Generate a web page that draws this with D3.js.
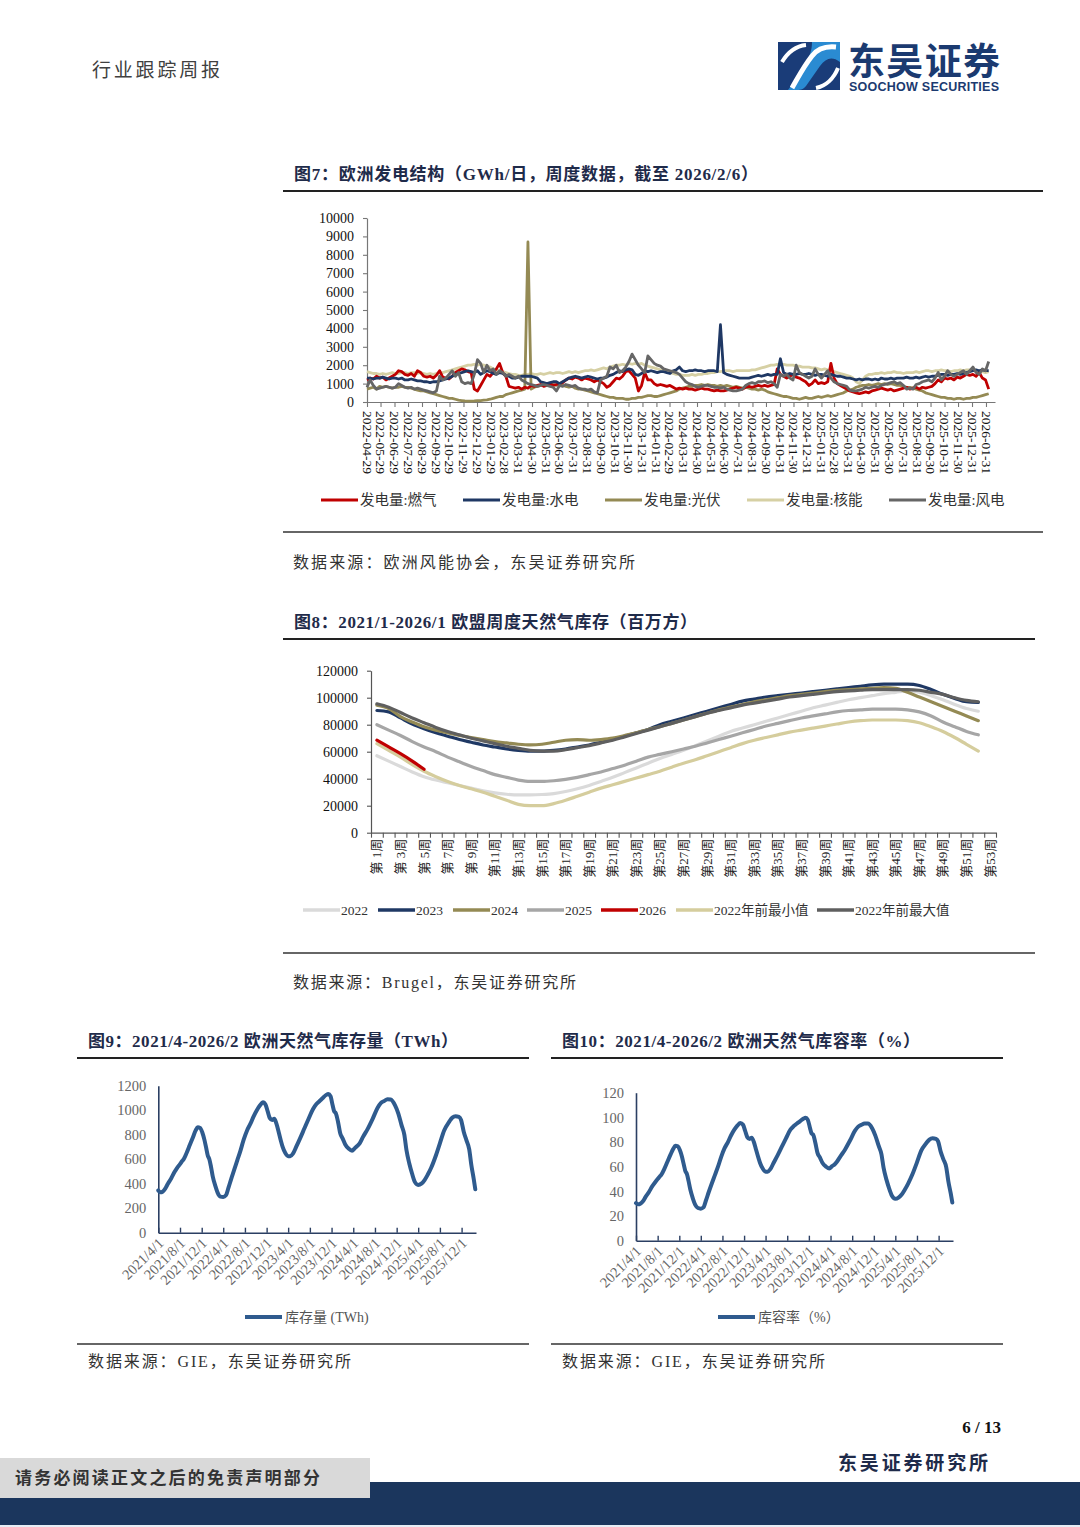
<!DOCTYPE html>
<html><head><meta charset="utf-8">
<script src="https://cdn.jsdelivr.net/npm/d3@7"></script>
<style>
body{margin:0;background:#fff;}
svg{display:block;}
text{font-family:"Liberation Serif","Noto Sans CJK SC",serif;}
</style></head><body>
<svg id="page" width="1080" height="1527"></svg>
<script>
// ================= DATA =================
// Fig 7: weekly generation (GWh/day), first week 2022-04-29
const genStart = "2022-04-29";
const genTickLabels = ["2022-04-29","2022-05-29","2022-06-29","2022-07-29","2022-08-29","2022-09-29","2022-10-29","2022-11-29","2022-12-29",
"2023-01-29","2023-02-28","2023-03-31","2023-04-30","2023-05-31","2023-06-30","2023-07-31","2023-08-31","2023-09-30","2023-10-31","2023-11-30","2023-12-31",
"2024-01-31","2024-02-29","2024-03-31","2024-04-30","2024-05-31","2024-06-30","2024-07-31","2024-08-31","2024-09-30","2024-10-31","2024-11-30","2024-12-31",
"2025-01-31","2025-02-28","2025-03-31","2025-04-30","2025-05-31","2025-06-30","2025-07-31","2025-08-31","2025-09-30","2025-10-31","2025-11-30","2025-12-31",
"2026-01-31"];
const genYTicks = [0,1000,2000,3000,4000,5000,6000,7000,8000,9000,10000];
const genNames = ["发电量:燃气","发电量:水电","发电量:光伏","发电量:核能","发电量:风电"];
const gasFired = [1200,1300,1250,1400,1300,1350,1200,1300,1400,1500,
1700,1650,1500,1450,1550,1400,1700,1600,1400,1350,
1400,1300,1450,1700,1350,1300,1250,1400,1600,1700,
1800,1750,1650,1600,700,600,900,1200,1500,1400,
1600,1800,2100,1600,1400,850,800,750,800,700,
800,750,900,850,900,950,850,900,1000,900,
950,1000,1050,1200,1300,1250,1350,1300,1200,1300,
1250,1200,1100,1200,1100,1000,800,900,1100,1300,
1250,1400,1650,1700,1500,1300,600,900,1600,1200,
1200,1000,900,950,900,850,900,800,700,750,
700,750,700,700,650,700,750,700,700,650,
600,650,600,600,650,700,750,800,750,700,
800,850,800,850,900,850,900,850,900,950,
1800,1500,1400,1300,1400,1500,1350,1300,1200,1100,
900,1000,1200,1000,1050,1000,1100,2100,1300,1000,
900,800,700,600,550,500,450,500,550,500,
600,650,700,750,700,650,700,600,650,700,
750,800,700,750,800,700,800,750,800,850,
1000,1200,1100,1300,1250,1300,1200,1350,1300,1400,
1500,1450,1500,1400,1600,1300,1200,700];
const hydro = [1300,1300,1250,1300,1300,1350,1300,1250,1300,1300,
1250,1300,1200,1200,1250,1200,1150,1150,1100,1100,
1050,1100,1100,1150,1200,1250,1300,1400,1500,1550,
1600,1650,1700,1650,1600,1700,1500,1600,1700,1650,
1550,1500,1600,1550,1450,1400,1300,1300,1350,1400,
1400,1400,1400,1350,1300,1100,1050,1000,1050,1100,
1100,1000,1100,1200,1300,1350,1400,1350,1300,1350,
1400,1350,1300,1250,1300,1300,1350,1450,1500,1600,
1700,1650,1750,1800,1750,1500,1450,1550,1700,1650,
1700,1650,1600,1650,1650,1600,1550,1700,1750,1900,
1700,1650,1700,1700,1750,1700,1700,1650,1700,1700,
1700,1650,4200,1600,1500,1450,1400,1350,1300,1300,
1300,1300,1350,1400,1450,1400,1450,1500,1450,1500,
1500,2350,1600,1500,1550,1500,1500,1550,1500,1500,
1550,1500,1450,1500,1500,1450,1400,1500,1450,1400,
1400,1350,1300,1300,1250,1200,1250,1200,1250,1250,
1200,1250,1200,1300,1250,1250,1300,1250,1300,1300,
1300,1350,1300,1300,1350,1300,1350,1400,1350,1400,
1400,1450,1500,1500,1450,1500,1500,1550,1500,1550,
1600,1650,1700,1750,1700,1750,1700,1700];
const solar = [700,750,800,700,850,800,850,800,750,800,
800,850,800,800,750,700,650,600,600,550,
500,450,400,350,300,250,200,200,150,100,
80,60,50,50,60,80,80,100,120,150,
200,250,300,300,400,450,500,550,600,650,
700,8700,700,800,850,900,950,900,1000,950,
900,950,900,850,800,850,750,700,700,650,
600,550,500,450,400,350,300,250,250,200,
200,200,150,150,200,200,250,250,300,350,
350,300,300,350,400,450,500,550,600,700,
750,800,850,850,900,900,950,900,950,900,
900,850,900,850,900,850,800,850,800,750,
800,750,700,700,650,700,650,550,500,450,
400,350,300,300,250,200,200,150,200,250,
200,200,250,300,250,300,350,300,350,400,
450,500,600,650,700,800,850,900,900,950,
900,950,1000,950,1000,950,1000,950,900,900,
850,800,800,750,700,650,600,500,450,400,
350,300,250,250,200,200,150,200,200,150,
200,200,250,250,300,350,400,450];
const nuclear = [1650,1600,1550,1550,1500,1550,1500,1550,1600,1550,
1550,1600,1600,1550,1600,1600,1550,1600,1550,1500,
1550,1500,1550,1600,1600,1650,1700,1750,1800,1850,
1900,1950,2000,2000,2050,2000,2050,2000,1950,1900,
1800,1750,1700,1650,1600,1550,1500,1500,1450,1450,
1500,1500,1550,1500,1500,1550,1500,1550,1600,1550,
1600,1600,1550,1600,1650,1600,1650,1600,1650,1700,
1700,1750,1700,1750,1800,1850,1800,1900,1950,2000,
2000,2050,2000,2100,2050,2100,2050,2100,2000,1950,
1900,1850,1800,1750,1700,1650,1600,1550,1500,1500,
1450,1450,1450,1500,1450,1500,1500,1550,1550,1600,
1600,1650,1650,1700,1700,1700,1650,1700,1700,1700,
1700,1700,1750,1750,1800,1850,1900,1950,2000,2000,
2050,2000,2050,2000,2000,2000,1950,1950,1900,1900,
1900,1850,1850,1800,1750,1800,1750,1700,1650,1600,
1550,1500,1450,1400,1300,1100,1000,1200,1400,1500,
1500,1550,1550,1600,1550,1600,1600,1650,1600,1600,
1550,1600,1600,1600,1650,1600,1650,1700,1700,1650,
1700,1700,1750,1700,1700,1650,1700,1700,1750,1700,
1750,1750,1700,1700,1650,1650,1600,1650];
const wind = [800,1200,900,700,750,800,850,800,750,800,
1000,900,800,750,800,700,750,700,650,600,
550,500,600,1400,1200,1300,1500,1700,1400,1600,
1100,1000,1050,1000,1500,2300,2100,1600,2000,1700,
1800,1500,1700,1600,1400,1500,1400,1300,1400,1200,
1100,1000,950,900,850,900,950,900,850,800,
600,900,850,950,900,850,900,750,700,700,
650,700,550,500,1200,1300,1400,1900,1800,2000,
1600,1700,1900,2200,2600,2300,2000,1800,1600,2500,
2300,2100,2000,1950,1800,1750,1700,1650,1600,1500,
1300,1100,1000,950,850,800,850,900,900,850,
800,800,750,800,700,650,600,600,650,700,
900,1000,1050,1000,1100,1100,1150,1050,1100,1000,
800,1500,1400,1500,1300,1200,2000,1600,1500,1400,
1300,1400,1800,1500,1300,1500,1700,1300,1100,1000,
950,900,850,650,600,600,650,700,800,750,
800,850,800,900,950,1000,1050,1100,1000,1050,
900,700,750,700,950,1000,1100,1150,1200,1100,
1300,1600,1200,1400,1700,1500,1400,1500,1600,1700,
1500,1700,1900,1600,1500,1800,1700,2200];

// Fig 8: EU weekly gas storage (million m3), weeks 1..53
const stockWeeks = d3.range(1, 54);
const stockWeekLabels = ["第 1周","第 3周","第 5周","第 7周","第 9周","第11周","第13周","第15周","第17周","第19周","第21周","第23周","第25周","第27周","第29周","第31周","第33周","第35周","第37周","第39周","第41周","第43周","第45周","第47周","第49周","第51周","第53周"];
const stockYTicks = [0,20000,40000,60000,80000,100000,120000];
const stockNames = ["2022","2023","2024","2025","2026","2022年前最小值","2022年前最大值"];
const stock2022 = [57000,53000,49000,45000,41500,39000,37000,35000,33000,31000,
29500,28500,28000,28000,28300,29000,30500,32500,35000,38000,
41000,44500,48000,51500,55000,58000,61000,64500,68000,71500,
75000,77500,80000,82500,85000,87500,90000,92500,94500,96500,
98500,100000,101500,103000,104000,105000,104000,101500,98500,95000,
92000,90000];
const stock2023 = [90500,89500,85000,80500,77000,74000,71500,69000,67000,65000,
63500,62000,61000,60500,60500,61000,62000,63500,65000,67000,
69000,71500,74000,76500,80000,82500,85000,87500,90000,92500,
95000,97500,99000,100500,101500,102500,103500,104500,105500,106500,
107500,108500,109500,110000,110000,110000,109000,106000,102500,99500,
97000,96500];
const stock2024 = [94500,92000,86000,82000,78500,76000,74000,72000,70500,69000,
67500,66500,65500,65000,65500,67000,68500,69000,68500,69000,
70000,72000,74000,76500,78500,81000,83500,86000,88500,91000,
93000,95000,97000,98500,100000,101500,102500,103500,104500,105500,
106000,106500,107000,107500,107000,104000,100500,97000,93500,90000,
86500,83000];
const stock2025 = [80000,76000,72000,67500,63500,60000,56000,52500,49000,46000,
43000,41000,39000,38000,38000,38500,39500,41000,43000,45000,
47500,50000,53000,56000,58000,60000,62000,64000,66500,69000,
71500,74000,76500,79000,81000,83000,85000,86500,88000,89500,
90500,91000,91500,91500,91500,91000,89500,86500,82000,78500,
75000,72500];
const stock2026 = [68500,63500,58500,53000,47000];
const stockMin = [66000,61000,56000,50500,45500,41500,38000,35000,32500,30000,
27000,24000,21000,20000,20000,21500,24000,27000,30000,33000,
35500,38000,40500,43000,45500,48500,51500,54000,57000,60000,
63000,66000,68500,70500,72500,74500,76000,77500,79000,80500,
82000,83000,83500,83500,83500,83000,81500,78500,75000,70500,
65500,60500];
const stockMax = [95500,93000,89000,85000,81500,78000,75000,72500,70000,68000,
66000,64000,62500,61000,60500,60500,61500,63000,64500,66500,
68500,71000,73500,76000,78500,81000,83500,86000,88500,90500,
92500,94500,96000,97500,99000,100500,101500,102500,103500,104500,
105000,105500,106000,106000,106000,106000,105500,104000,102500,100000,
98000,97000];

// Fig 9 / 10: EU gas storage (GIE)
const storageDates = ["2021-04-01","2021-04-13","2021-04-25","2021-05-10","2021-05-25","2021-06-13","2021-07-01","2021-07-16","2021-08-01","2021-08-13",
"2021-08-22","2021-09-07","2021-09-25","2021-10-13","2021-10-28","2021-11-09","2021-11-22","2021-12-04","2021-12-16","2021-12-25",
"2022-01-04","2022-01-13","2022-01-22","2022-02-01","2022-02-16","2022-03-01","2022-03-16","2022-04-01","2022-04-16","2022-05-01",
"2022-05-16","2022-06-01","2022-06-19","2022-07-07","2022-07-25","2022-08-13","2022-09-01","2022-09-19","2022-10-07","2022-10-25",
"2022-11-10","2022-11-25","2022-12-07","2022-12-19","2023-01-01","2023-01-13","2023-01-25","2023-02-07","2023-02-19","2023-03-01",
"2023-03-16","2023-04-01","2023-04-13","2023-04-28","2023-05-16","2023-06-07","2023-07-01","2023-07-25","2023-08-19","2023-09-07",
"2023-09-25","2023-10-13","2023-11-01","2023-11-13","2023-11-25","2023-12-07","2023-12-16","2023-12-25","2024-01-07","2024-01-19",
"2024-02-01","2024-02-16","2024-03-07","2024-03-25","2024-04-10","2024-04-25","2024-05-07","2024-05-25","2024-06-22","2024-07-19",
"2024-08-16","2024-09-04","2024-09-22","2024-10-10","2024-10-28","2024-11-22","2024-12-10","2024-12-28","2025-01-13","2025-01-25",
"2025-02-10","2025-02-25","2025-03-13","2025-04-01","2025-04-19","2025-05-07","2025-05-25","2025-06-13","2025-07-07","2025-08-01",
"2025-08-25","2025-09-22","2025-10-10","2025-10-28","2025-11-16","2025-11-28","2025-12-13","2025-12-28","2026-01-13","2026-01-25",
"2026-02-07","2026-02-16"];
const storageTWh = [345,330,335,360,400,445,495,530,560,585,
600,650,715,780,835,860,855,820,760,700,
630,600,540,460,380,325,295,292,305,370,
440,510,590,670,760,835,890,950,1000,1040,
1065,1045,990,935,920,930,890,820,750,700,
650,625,625,645,700,770,850,930,1010,1050,
1075,1100,1125,1132,1115,1040,990,975,900,810,
770,720,685,670,690,710,730,780,850,930,
1020,1060,1075,1090,1088,1040,975,880,800,675,
565,485,415,390,400,430,475,530,620,730,
835,905,940,950,945,920,825,755,680,550,
440,355];
const storagePct = [30.5,29.5,30,32,35.5,39.5,44,47,50,52,
53.5,58,64,70,74.5,77,76.5,73.5,68,62.5,
56.5,54,48.5,41.5,34,29,26.5,26,27,33,
39.5,46,53,60,68,75,80,85.5,90,93.5,
95.5,94,89,84,82.5,83.5,80,73.5,67.5,63,
58.5,56,56,58,63,69,76,83,90,93,
95,97,99,99.6,98,91.5,87,86,79,71,
67.5,63,60,58.5,60.5,62,64,68,74,81,
89,92.5,94,95,95,91,85,77,70,59,
49.5,42.5,36.5,34,35,37.5,41.5,46.5,54,63.5,
73,79,82,83,82.5,80.5,72,66,59.5,48,
38.5,31];
const storageTickLabels = ["2021/4/1","2021/8/1","2021/12/1","2022/4/1","2022/8/1","2022/12/1","2023/4/1","2023/8/1","2023/12/1","2024/4/1","2024/8/1","2024/12/1","2025/4/1","2025/8/1","2025/12/1"];
const twhYTicks = [0,200,400,600,800,1000,1200];
const pctYTicks = [0,20,40,60,80,100,120];

// ================= DRAWING =================
const svg = d3.select("#page");
const parse = d3.timeParse("%Y-%m-%d");
const parseSlash = d3.timeParse("%Y/%m/%d");

function txt(x, y, s, opt) {
  opt = opt || {};
  const t = svg.append("text").attr("x", x).attr("y", y).text(s)
    .attr("font-size", opt.size || 14).attr("fill", opt.fill || "#333");
  if (opt.weight) t.attr("font-weight", opt.weight);
  if (opt.anchor) t.attr("text-anchor", opt.anchor);
  if (opt.len) t.attr("textLength", opt.len).attr("lengthAdjust", "spacing");
  return t;
}
function hline(x1, x2, y, w, c) {
  svg.append("line").attr("x1", x1).attr("x2", x2).attr("y1", y).attr("y2", y)
    .attr("stroke", c || "#222").attr("stroke-width", w);
}

// ---- header ----
txt(92, 77, "行业跟踪周报", {size: 19, fill: "#404040", len: 128});
const logo = svg.append("g");
logo.append("rect").attr("x", 778).attr("y", 42).attr("width", 62).attr("height", 48).attr("fill", "#1a3c78");
logo.append("path").attr("d", "M812,42 L840,42 L840,62 C832,56 826,58 820,66 L806,86 C803,90 800,90 795,90 L788,90 C796,80 800,72 806,62 C810,55 812,50 812,42 Z").attr("fill", "#2a8bd2");
logo.append("path").attr("d", "M792,88 C800,74 804,66 812,56 C818,48 826,46 836,47").attr("fill", "none").attr("stroke", "#fff").attr("stroke-width", 5);
logo.append("path").attr("d", "M782,62 C788,52 796,46 806,45").attr("fill", "none").attr("stroke", "#fff").attr("stroke-width", 4);
logo.append("path").attr("d", "M816,88 C826,86 834,78 838,68").attr("fill", "none").attr("stroke", "#fff").attr("stroke-width", 4);
txt(848, 75, "东吴证券", {size: 37, fill: "#1b3a70", weight: "bold", len: 152});
txt(849, 91, "SOOCHOW SECURITIES", {size: 12.5, fill: "#1b3a70", weight: "bold", len: 150})
  .style("font-family", "'Liberation Sans Narrow','Liberation Sans',sans-serif");

// ---- section frames ----
const titleColor = "#1f2b4a";
txt(294, 180, "图7：欧洲发电结构（GWh/日，周度数据，截至 2026/2/6）", {size: 17, weight: "bold", fill: titleColor, len: 464});
hline(283, 1043, 191, 2.2, "#222");
hline(283, 1043, 532, 1.4, "#333");
txt(293, 568, "数据来源：欧洲风能协会，东吴证券研究所", {size: 16, fill: "#333", len: 342});

txt(294, 628, "图8：2021/1-2026/1 欧盟周度天然气库存（百万方）", {size: 17, weight: "bold", fill: titleColor, len: 403});
hline(283, 1035, 639, 2.2, "#222");
hline(283, 1035, 953, 1.4, "#333");
txt(293, 988, "数据来源：Brugel，东吴证券研究所", {size: 16, fill: "#333", len: 283});

txt(88, 1047, "图9：2021/4-2026/2 欧洲天然气库存量（TWh）", {size: 17, weight: "bold", fill: titleColor, len: 370});
hline(77, 529, 1058, 2.2, "#222");
hline(77, 529, 1344, 1.4, "#333");
txt(88, 1367, "数据来源：GIE，东吴证券研究所", {size: 16, fill: "#333", len: 263});

txt(562, 1047, "图10：2021/4-2026/2 欧洲天然气库容率（%）", {size: 17, weight: "bold", fill: titleColor, len: 358});
hline(551, 1003, 1058, 2.2, "#222");
hline(551, 1003, 1344, 1.4, "#333");
txt(562, 1367, "数据来源：GIE，东吴证券研究所", {size: 16, fill: "#333", len: 263});

// ================= FIG 7 =================
(function () {
  const x = d3.scaleTime().domain([parse("2022-04-29"), parse("2026-02-20")]).range([367, 995]);
  const y = d3.scaleLinear().domain([0, 10000]).range([402, 218]);
  const dates = gasFired.map((_, i) => d3.timeDay.offset(parse(genStart), 7 * i));
  const g = svg.append("g");
  const gy = g.append("g").attr("transform", "translate(367,0)")
    .call(d3.axisLeft(y).tickValues(genYTicks).tickSize(4).tickSizeOuter(0).tickPadding(9).tickFormat(d3.format("d")));
  const tickDates = genTickLabels.map(parse);
  const gx = g.append("g").attr("transform", "translate(0,402)")
    .call(d3.axisBottom(x).tickValues(tickDates).tickSize(5).tickSizeOuter(0).tickFormat((d, i) => genTickLabels[i]));
  [gy, gx].forEach(a => {
    a.select(".domain").attr("stroke", "#777").attr("stroke-width", 1.2);
    a.selectAll(".tick line").attr("stroke", "#777").attr("stroke-width", 1.1);
    a.selectAll("text").attr("fill", "#111");
  });
  gy.selectAll("text").attr("font-size", 14);
  gx.selectAll("text").attr("font-size", 13.5).attr("text-anchor", "start")
    .attr("transform", "rotate(90)").attr("x", 9).attr("y", 0).attr("dy", "0.35em");

  const series = [
    {v: nuclear, c: "#d6d0a4"},
    {v: solar, c: "#948a54"},
    {v: gasFired, c: "#c00000"},
    {v: hydro, c: "#1f3864"},
    {v: wind, c: "#666666"}
  ];
  series.forEach(s => {
    g.append("path").datum(s.v).attr("fill", "none").attr("stroke", s.c).attr("stroke-width", 2.8)
      .attr("stroke-linejoin", "round")
      .attr("d", d3.line().x((d, i) => x(dates[i])).y(d => y(d)));
  });
  const legendColors = ["#c00000", "#1f3864", "#948a54", "#d6d0a4", "#666666"];
  genNames.forEach((n, k) => {
    const x0 = 321 + k * 142;
    g.append("line").attr("x1", x0).attr("x2", x0 + 37).attr("y1", 500).attr("y2", 500)
      .attr("stroke", legendColors[k]).attr("stroke-width", 3);
    g.append("text").attr("x", x0 + 39).attr("y", 505).attr("font-size", 14.5).attr("fill", "#333").text(n);
  });
})();

// ================= FIG 8 =================
(function () {
  const y = d3.scaleLinear().domain([0, 120000]).range([832.7, 670.7]);
  const xb = d3.scaleBand().domain(stockWeeks).range([371, 996]).paddingInner(0).paddingOuter(0);
  const xe = d3.scaleLinear().domain([0, 53]).range([371, 996]);
  const g = svg.append("g");
  const gy = g.append("g").attr("transform", "translate(371,0)")
    .call(d3.axisLeft(y).tickValues(stockYTicks).tickSize(4).tickSizeOuter(0).tickPadding(9).tickFormat(d3.format("d")));
  const ge = g.append("g").attr("transform", "translate(0,832.7)")
    .call(d3.axisBottom(xe).tickValues(d3.range(0, 54)).tickSize(5).tickSizeOuter(0).tickFormat(""));
  const oddWeeks = stockWeeks.filter(w => w % 2 === 1);
  const gl = g.append("g").attr("transform", "translate(0,832.7)")
    .call(d3.axisBottom(xb).tickValues(oddWeeks).tickSize(0).tickFormat((d, i) => stockWeekLabels[i]));
  gl.select(".domain").remove();
  [gy, ge].forEach(a => {
    a.select(".domain").attr("stroke", "#555").attr("stroke-width", 1.2);
    a.selectAll(".tick line").attr("stroke", "#555").attr("stroke-width", 1.1);
  });
  gy.selectAll("text").attr("font-size", 14).attr("fill", "#111");
  gl.selectAll("text").attr("font-size", 13).attr("fill", "#222").attr("text-anchor", "end")
    .attr("transform", "rotate(-90)").attr("x", -6).attr("y", 0).attr("dy", "0.35em");

  const cx = w => xb(w) + xb.bandwidth() / 2;
  const series = [
    {v: stock2022, c: "#dadada"},
    {v: stock2025, c: "#a6a6a6"},
    {v: stockMin, c: "#d5cd9d"},
    {v: stock2023, c: "#1f3864"},
    {v: stock2024, c: "#948a54"},
    {v: stock2026, c: "#c00000"},
    {v: stockMax, c: "#5f5f5f"}
  ];
  series.forEach(s => {
    g.append("path").datum(s.v).attr("fill", "none").attr("stroke", s.c).attr("stroke-width", 3.2)
      .attr("stroke-linejoin", "round").attr("stroke-linecap", "round")
      .attr("d", d3.line().curve(d3.curveMonotoneX).x((d, i) => cx(stockWeeks[i])).y(d => y(d)));
  });
  const legendColors = ["#dadada", "#1f3864", "#948a54", "#a6a6a6", "#c00000", "#d5cd9d", "#5f5f5f"];
  const legendX = [303, 378, 453, 527, 601, 676, 817];
  stockNames.forEach((n, k) => {
    const x0 = legendX[k];
    g.append("line").attr("x1", x0).attr("x2", x0 + 37).attr("y1", 910).attr("y2", 910)
      .attr("stroke", legendColors[k]).attr("stroke-width", 3.5);
    g.append("text").attr("x", x0 + 38).attr("y", 915).attr("font-size", 13.5).attr("fill", "#333").text(n);
  });
})();

// ================= FIG 9 & 10 =================
function storageChart(vals, yTicks, yMax, x0, x1, y0, y1, legendX, legendText) {
  const x = d3.scaleTime().domain([parse("2021-04-01"), parse("2026-02-20")]).range([x0, x1]);
  const y = d3.scaleLinear().domain([0, yMax]).range([y0, y1]);
  const g = svg.append("g");
  const gy = g.append("g").attr("transform", `translate(${x0},0)`)
    .call(d3.axisLeft(y).tickValues(yTicks).tickSize(0).tickPadding(12).tickFormat(d3.format("d")));
  const tickDates = storageTickLabels.map(parseSlash);
  const gx = g.append("g").attr("transform", `translate(0,${y0})`)
    .call(d3.axisBottom(x).tickValues(tickDates).tickSize(-5).tickSizeOuter(0).tickFormat((d, i) => storageTickLabels[i]));
  [gy, gx].forEach(a => {
    a.select(".domain").attr("stroke", "#2b3f63").attr("stroke-width", 1.6);
    a.selectAll(".tick line").attr("stroke", "#2b3f63").attr("stroke-width", 1.4);
  });
  gy.selectAll("text").attr("font-size", 14.5).attr("fill", "#666");
  gx.selectAll("text").attr("font-size", 14.5).attr("fill", "#666").attr("text-anchor", "end")
    .attr("transform", "rotate(-45)").attr("x", -4).attr("y", 7).attr("dy", "0.35em");
  const dates = storageDates.map(parse);
  g.append("path").datum(vals).attr("fill", "none").attr("stroke", "#2f5b8e").attr("stroke-width", 4)
    .attr("stroke-linejoin", "round").attr("stroke-linecap", "round")
    .attr("d", d3.line().curve(d3.curveMonotoneX).x((d, i) => x(dates[i])).y(d => y(d)));
  g.append("line").attr("x1", legendX).attr("x2", legendX + 37).attr("y1", 1317).attr("y2", 1317)
    .attr("stroke", "#2f5b8e").attr("stroke-width", 4);
  g.append("text").attr("x", legendX + 40).attr("y", 1322).attr("font-size", 14).attr("fill", "#555").text(legendText);
}
storageChart(storageTWh, twhYTicks, 1200, 158.3, 476, 1232.7, 1085.7, 245, "库存量 (TWh)");
storageChart(storagePct, pctYTicks, 120, 636, 953, 1240.7, 1092.7, 718, "库容率（%）");

// ---- footer ----
txt(1001, 1433, "6 / 13", {size: 17, weight: "bold", fill: "#111", anchor: "end"});
txt(838, 1470, "东吴证券研究所", {size: 19, weight: "bold", fill: "#1f2b4a", len: 150});
svg.append("rect").attr("x", 0).attr("y", 1482).attr("width", 1080).attr("height", 43).attr("fill", "#1b365d");
svg.append("rect").attr("x", 0).attr("y", 1525).attr("width", 1080).attr("height", 2).attr("fill", "#e6edf5");
svg.append("rect").attr("x", 0).attr("y", 1458).attr("width", 370).attr("height", 40).attr("fill", "#d9d9d9");
txt(15, 1484, "请务必阅读正文之后的免责声明部分", {size: 17, weight: "bold", fill: "#333", len: 305});
</script></body></html>
